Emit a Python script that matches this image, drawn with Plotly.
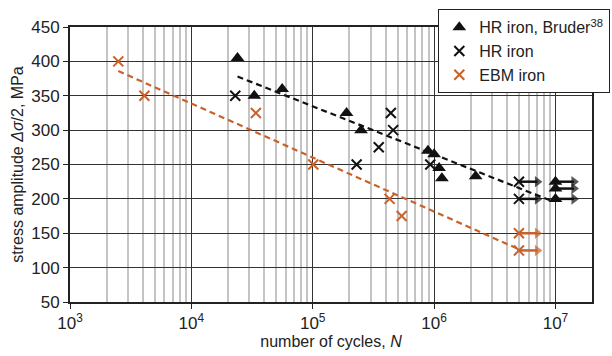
import plotly.graph_objects as go
import numpy as np

# ---- data ----
bruder_n = [2.4e4, 3.3e4, 5.6e4, 1.9e5, 2.5e5, 8.9e5, 1.0e6, 1.1e6, 1.16e6, 2.2e6]
bruder_s = [405, 350, 360, 325, 300, 270, 265, 245, 230, 233]
bruder_runout_n = [1e7, 1e7, 1e7]
bruder_runout_s = [225, 215, 200]

hr_n = [2.3e4, 4.4e5, 4.6e5, 3.5e5, 2.3e5, 9.3e5]
hr_s = [350, 325, 300, 275, 250, 250]
hr_runout_n = [5e6, 5e6]
hr_runout_s = [225, 200]

ebm_n = [2.5e3, 4.1e3, 3.4e4, 1.01e5, 4.3e5, 5.4e5]
ebm_s = [400, 350, 325, 250, 200, 175]
ebm_runout_n = [5e6, 5e6]
ebm_runout_s = [150, 125]

hr_fit_n = [2.4e4, 9.6e6]
hr_fit_s = [378, 196]
ebm_fit_n = [2.5e3, 5.1e6]
ebm_fit_s = [386, 126]

x_tickvals = [1e3, 1e4, 1e5, 1e6, 1e7]
x_ticktext = ["10<sup>3</sup>", "10<sup>4</sup>", "10<sup>5</sup>", "10<sup>6</sup>", "10<sup>7</sup>"]
x_minor_vals = [m * 10 ** e for e in range(3, 8) for m in range(2, 10)]
y_tickvals = [50, 100, 150, 200, 250, 300, 350, 400, 450]

BLACK = "#111111"
ORANGE = "#c8622a"
ARROW_FACTOR = 1.42

fig = go.Figure()

# trend lines
fig.add_trace(go.Scatter(x=hr_fit_n, y=hr_fit_s, mode="lines",
                         line=dict(color=BLACK, width=2.2, dash="6px,4px"),
                         showlegend=False, hoverinfo="skip"))
fig.add_trace(go.Scatter(x=ebm_fit_n, y=ebm_fit_s, mode="lines",
                         line=dict(color=ORANGE, width=2.2, dash="6px,4px"),
                         showlegend=False, hoverinfo="skip"))

# run-out arrows
def add_arrows(ns, ss, color):
    for n, s in zip(ns, ss):
        fig.add_trace(go.Scatter(x=[n, n * ARROW_FACTOR], y=[s, s], mode="lines+markers",
                                 line=dict(color=color, width=2.5),
                                 marker=dict(symbol=["circle", "triangle-right"], size=[0, 10],
                                             color=color, line=dict(width=0)),
                                 showlegend=False, hoverinfo="skip"))

add_arrows(bruder_runout_n, bruder_runout_s, BLACK)
add_arrows(hr_runout_n, hr_runout_s, BLACK)
add_arrows(ebm_runout_n, ebm_runout_s, ORANGE)

# data points
fig.add_trace(go.Scatter(x=bruder_n + bruder_runout_n, y=bruder_s + bruder_runout_s, mode="markers",
                         name="HR iron, Bruder<sup>38</sup>",
                         marker=dict(symbol="triangle-up", size=12, color=BLACK)))
fig.add_trace(go.Scatter(x=hr_n + hr_runout_n, y=hr_s + hr_runout_s, mode="markers",
                         name="HR iron",
                         marker=dict(symbol="x-thin", size=10, color=BLACK,
                                     line=dict(color=BLACK, width=2))))
fig.add_trace(go.Scatter(x=ebm_n + ebm_runout_n, y=ebm_s + ebm_runout_s, mode="markers",
                         name="EBM iron",
                         marker=dict(symbol="x-thin", size=10, color=ORANGE,
                                     line=dict(color=ORANGE, width=2))))

fig.update_layout(
    width=612, height=356,
    margin=dict(l=70, r=20, t=27, b=54, autoexpand=False),
    paper_bgcolor="white", plot_bgcolor="white",
    font=dict(family="Liberation Sans, Arial, sans-serif", size=14, color="#222"),
    legend=dict(xref="container", yref="container", x=438 / 612, y=1 - 9 / 356,
                xanchor="left", yanchor="top",
                bgcolor="white", bordercolor="#222", borderwidth=1.3,
                font=dict(size=16, color="#222"), itemwidth=30,
                tracegroupgap=4),
)

fig.update_xaxes(
    type="log", range=[3, np.log10(2e7)],
    tickvals=x_tickvals, ticktext=x_ticktext,
    ticks="outside", ticklen=5, tickcolor="#222",
    showline=True, linecolor="#222", linewidth=1.8, mirror=True,
    showgrid=True, gridcolor="#333", gridwidth=1.2,
    minor=dict(tickvals=x_minor_vals, showgrid=True, gridcolor="#c4c4c4", gridwidth=1.5, ticks=""),
    title=dict(text="number of cycles, <i>N</i>", font=dict(size=16), standoff=4),
    tickfont=dict(size=17),
    zeroline=False,
)
fig.update_yaxes(
    range=[50, 450], tickvals=y_tickvals,
    ticks="outside", ticklen=5, tickcolor="#222",
    showline=True, linecolor="#222", linewidth=1.8, mirror=True,
    showgrid=True, gridcolor="#333", gridwidth=1.2,
    title=dict(text="stress amplitude <i>Δσ</i>/2, MPa", font=dict(size=16), standoff=4),
    tickfont=dict(size=17),
    zeroline=False,
)

fig.write_html("out.html")
